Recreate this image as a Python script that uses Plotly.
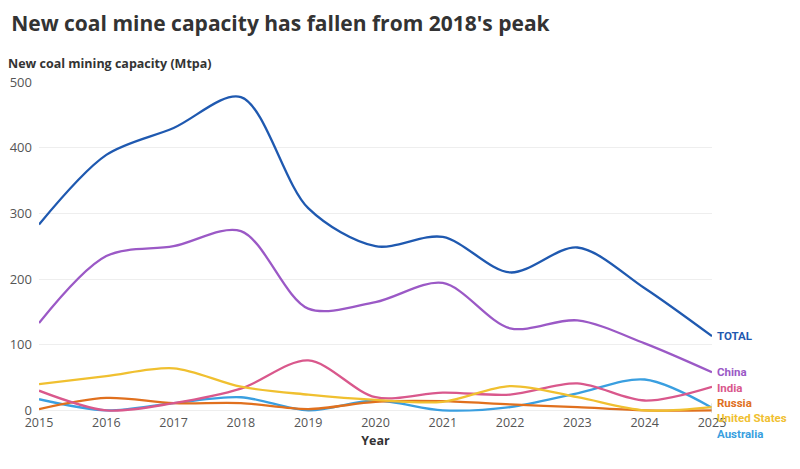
import plotly.graph_objects as go

years = list(range(2015, 2026))

total = [283, 389, 430, 477, 308, 250, 264, 210, 248, 186, 113]
china = [133, 235, 250, 273, 155, 165, 194, 125, 137, 102, 58]
india = [30, 0, 11, 33, 76, 20, 27, 24, 41, 15, 36]
russia = [2, 19, 11, 11, 2, 13, 14, 9, 5, 0, 0]
united_states = [40, 52, 64, 36, 24, 16, 13, 37, 20, 0, 5]
australia = [17, 0, 11, 20, 0, 15, 0, 5, 26, 47, 4]

series = [
    ("Australia", australia, "#3a9fe0"),
    ("Russia", russia, "#e0701e"),
    ("India", india, "#d9588c"),
    ("United States", united_states, "#f0c030"),
    ("China", china, "#9b59c6"),
    ("TOTAL", total, "#1f59b0"),
]

# pixel nudges for the end labels so they don't pile up
label_shift = {"TOTAL": 0, "China": 0, "India": -1, "Russia": 7,
               "United States": -11, "Australia": -26}

fig = go.Figure()
for name, vals, col in series:
    fig.add_trace(go.Scatter(x=years, y=vals, name=name, mode="lines",
                             line=dict(color=col, width=2.3, shape="spline", smoothing=0.9),
                             hoverinfo="x+y+name"))
    fig.add_annotation(x=years[-1], y=vals[-1], text="<b>" + name + "</b>",
                       showarrow=False, xanchor="left", xshift=3,
                       yshift=label_shift[name],
                       font=dict(color=col, size=11.5, family="Roboto"))

# little grey leader bracket for the crowded labels at the bottom right
fig.add_shape(type="line", xref="x", yref="y", x0=years[-1], x1=years[-1],
              ysizemode="pixel", yanchor=0, y0=-23, y1=7,
              line=dict(color="#c8c8c8", width=1))

fig.add_annotation(xref="paper", yref="paper", x=-0.049, y=1.024,
                   xanchor="left", yanchor="bottom", showarrow=False,
                   text="<b>New coal mining capacity (Mtpa)</b>",
                   font=dict(size=12.5, color="#333", family="Open Sans"))

# the page body adds ~8px around the figure, so the figure is drawn 8px smaller
fig.update_layout(
    width=792, height=461,
    margin=dict(l=31, r=88, t=74, b=56),
    paper_bgcolor="white", plot_bgcolor="white",
    showlegend=False,
    title=dict(text="<b>New coal mine capacity has fallen from 2018's peak</b>",
               x=0.004, xanchor="left", y=0.982, yanchor="top",
               font=dict(size=21, color="#333", family="Open Sans")),
    font=dict(family="Open Sans", color="#555"),
)
fig.update_xaxes(range=[2015, 2025], dtick=1, showgrid=False, zeroline=False,
                 showline=False, ticks="", automargin=False,
                 tickfont=dict(size=12.5, color="#555"),
                 title=dict(text="<b>Year</b>", font=dict(size=12.5, color="#333"), standoff=6))
fig.update_yaxes(range=[-4, 500], tickvals=[0, 100, 200, 300, 400, 500],
                 showgrid=True, gridcolor="#eeeeee", zeroline=False, automargin=False,
                 tickfont=dict(size=13, color="#555"), ticklabelstandoff=6)

fig.write_html("out.html")
